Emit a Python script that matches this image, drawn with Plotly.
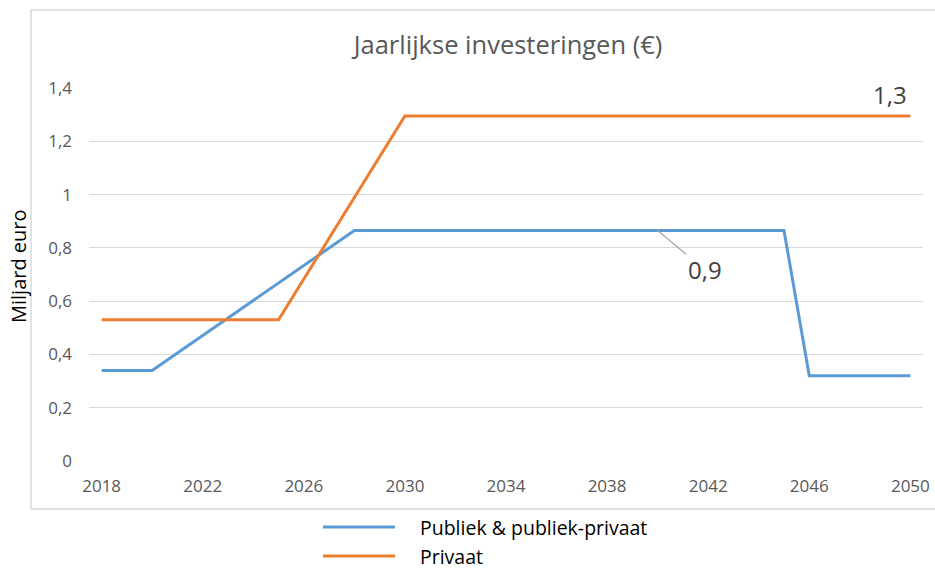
import plotly.graph_objects as go

# Breakpoints of each investment series (years, billions of euro)
publiek_years = [2018, 2020, 2028, 2045, 2046, 2050]
publiek_values = [0.34, 0.34, 0.865, 0.865, 0.32, 0.32]

privaat_years = [2018, 2025, 2030, 2050]
privaat_values = [0.53, 0.53, 1.295, 1.295]

series_names = ["Publiek & publiek-privaat", "Privaat"]
series_colors = ["#5B9BD5", "#ED7D31"]

x_ticks = list(range(2018, 2051, 4))
y_ticks = [0, 0.2, 0.4, 0.6, 0.8, 1.0, 1.2, 1.4]

FONT = "Open Sans"
W, H = 935, 570
L, R, T, B = 89, 12, 88, 109
PW, PH = W - L - R, H - T - B


def px_to_paper(px, py):
    return (px - L) / PW, (H - B - py) / PH


def fmt(v):
    return f"{v:.1f}".replace(".", ",")


fig = go.Figure()
fig.add_trace(go.Scatter(x=publiek_years, y=publiek_values, mode="lines",
                         name=series_names[0],
                         line=dict(color=series_colors[0], width=3),
                         showlegend=False))
fig.add_trace(go.Scatter(x=privaat_years, y=privaat_values, mode="lines",
                         name=series_names[1],
                         line=dict(color=series_colors[1], width=3),
                         showlegend=False))

annotations = []
shapes = []

# Value labels
annotations.append(dict(x=2040, y=publiek_values[2], xref="x", yref="y",
                        text=fmt(publiek_values[2]), showarrow=True,
                        arrowhead=0, arrowwidth=1.2, arrowcolor="#A6A6A6",
                        ax=47, ay=39, standoff=0,
                        font=dict(family=FONT, size=24, color="#404040")))
annotations.append(dict(x=privaat_years[-1], y=privaat_values[-1], xref="x", yref="y",
                        text=fmt(privaat_values[-1]), showarrow=False,
                        xshift=-20, yshift=21,
                        font=dict(family=FONT, size=24, color="#404040")))

# Y axis title
ax_x, ax_y = px_to_paper(18, 266)
annotations.append(dict(x=ax_x, y=ax_y, xref="paper", yref="paper",
                        text="Miljard euro", textangle=-90, showarrow=False,
                        xanchor="center", yanchor="middle",
                        font=dict(family=FONT, size=20, color="#000000")))

# Legend drawn below the chart frame
for i, (name, color) in enumerate(zip(series_names, series_colors)):
    ly = 527 + i * 29
    x0, yy = px_to_paper(323, ly)
    x1, _ = px_to_paper(395, ly)
    shapes.append(dict(type="line", xref="paper", yref="paper",
                       x0=x0, x1=x1, y0=yy, y1=yy,
                       line=dict(color=color, width=3)))
    tx, _ = px_to_paper(418, ly)
    annotations.append(dict(x=tx, y=yy, xref="paper", yref="paper",
                            text=name, showarrow=False,
                            xanchor="left", yanchor="middle",
                            font=dict(family=FONT, size=19.5, color="#000000")))

# Chart frame
fx0, fy0 = px_to_paper(31, 509)
fx1, fy1 = px_to_paper(945, 10)
shapes.append(dict(type="rect", xref="paper", yref="paper",
                   x0=fx0, x1=fx1, y0=fy0, y1=fy1,
                   line=dict(color="#D9D9D9", width=1.5), layer="below"))

tx, _ = px_to_paper(508, 0)
fig.update_layout(
    width=W, height=H,
    margin=dict(l=L, r=R, t=T, b=B),
    paper_bgcolor="white", plot_bgcolor="white",
    separators=",.",
    title=dict(text="Jaarlijkse investeringen (€)", x=tx, xref="paper",
               xanchor="center", y=1 - 45 / H, yanchor="middle",
               font=dict(family=FONT, size=25.5, color="#595959")),
    xaxis=dict(range=[2017.5, 2050.5], tickvals=x_ticks, showgrid=False,
               zeroline=False, showline=False, ticks="",
               ticklabelstandoff=13, automargin=False,
               tickfont=dict(family=FONT, size=17, color="#595959")),
    yaxis=dict(range=[0, 1.4], tickvals=y_ticks, showgrid=True,
               gridcolor="#D9D9D9", gridwidth=1.2, zeroline=False,
               showline=False, ticks="", ticklabelstandoff=16, automargin=False,
               tickfont=dict(family=FONT, size=17, color="#595959")),
    annotations=annotations,
    shapes=shapes,
    showlegend=False,
)

fig.write_html("out.html")
